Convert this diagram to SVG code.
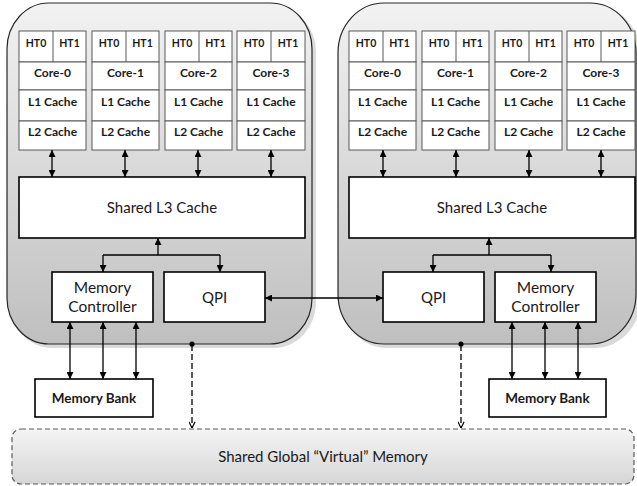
<svg xmlns="http://www.w3.org/2000/svg" width="637" height="486" viewBox="0 0 637 486">
<defs>
<linearGradient id="sock" x1="0" y1="0" x2="0" y2="1">
<stop offset="0" stop-color="#f2f2f2"/>
<stop offset="1" stop-color="#bfbfbf"/>
</linearGradient>
<linearGradient id="glob" x1="0" y1="0" x2="0" y2="1">
<stop offset="0" stop-color="#f4f4f4"/>
<stop offset="1" stop-color="#d6d6d6"/>
</linearGradient>
<marker id="ah" viewBox="0 0 8 8" refX="8" refY="4" markerWidth="7" markerHeight="7" markerUnits="userSpaceOnUse" orient="auto-start-reverse">
<path d="M0,0 L8,4 L0,8 z" fill="#000"/>
</marker>
<marker id="open" viewBox="0 0 8 8" refX="7.5" refY="4" markerWidth="7" markerHeight="7" markerUnits="userSpaceOnUse" orient="auto">
<path d="M0.5,0.5 L7.5,4 L0.5,7.5" fill="none" stroke="#000" stroke-width="1.3"/>
</marker>
</defs>
<style>
.sock{fill:url(#sock);stroke:#262626;stroke-width:1.2}
.shadow{fill:#dadada}
.cell{fill:#fff;stroke:#595959;stroke-width:1}
.box{fill:#fff;stroke:#000;stroke-width:1.6}
.ht{font-family:Lato,"Liberation Sans",sans-serif;font-weight:bold;font-size:10.5px;fill:#1a1a1a;text-anchor:middle}
.cl{font-family:Lato,"Liberation Sans",sans-serif;font-weight:bold;font-size:12px;fill:#1a1a1a;text-anchor:middle}
.lbl{font-family:Lato,"Liberation Sans",sans-serif;font-size:15px;fill:#1a1a1a;text-anchor:middle}
.mc{font-family:Lato,"Liberation Sans",sans-serif;font-size:15.5px;fill:#1a1a1a;text-anchor:middle}
.mb{font-family:Lato,"Liberation Sans",sans-serif;font-weight:bold;font-size:13.5px;fill:#1a1a1a;text-anchor:middle}
.conn line,.conn path{stroke:#000;stroke-width:1.3;fill:none}
.dash{stroke-dasharray:6,3}
.glob{fill:url(#glob);stroke:#595959;stroke-width:1.2;stroke-dasharray:5,3}
</style>

<!-- Sockets -->
<g id="socket-left">
<rect class="shadow" x="10" y="6" width="306" height="342" rx="42" ry="46"/>
<rect class="sock" x="7" y="3" width="305" height="341" rx="42" ry="46"/>
</g>
<g id="socket-right">
<rect class="shadow" x="341" y="6" width="300" height="342" rx="46" ry="50"/>
<rect class="sock" x="338" y="3" width="298" height="341" rx="46" ry="50"/>
</g>

<!-- Left cores -->
<g id="left-core-0">
<rect class="cell" x="19" y="31" width="67" height="31"/><line class="cell" x1="53" y1="31" x2="53" y2="62"/>
<rect class="cell" x="19" y="62" width="67" height="28"/><rect class="cell" x="19" y="90" width="67" height="31"/><rect class="cell" x="19" y="121" width="67" height="29"/>
<text class="ht" x="36" y="46.5">HT0</text><text class="ht" x="69.5" y="46.5">HT1</text>
<text class="cl" x="52.5" y="77">Core-0</text><text class="cl" x="52.5" y="106">L1 Cache</text><text class="cl" x="52.5" y="136">L2 Cache</text>
</g>
<g id="left-core-1">
<rect class="cell" x="92" y="31" width="67" height="31"/><line class="cell" x1="126" y1="31" x2="126" y2="62"/>
<rect class="cell" x="92" y="62" width="67" height="28"/><rect class="cell" x="92" y="90" width="67" height="31"/><rect class="cell" x="92" y="121" width="67" height="29"/>
<text class="ht" x="109" y="46.5">HT0</text><text class="ht" x="142.5" y="46.5">HT1</text>
<text class="cl" x="125.5" y="77">Core-1</text><text class="cl" x="125.5" y="106">L1 Cache</text><text class="cl" x="125.5" y="136">L2 Cache</text>
</g>
<g id="left-core-2">
<rect class="cell" x="165" y="31" width="67" height="31"/><line class="cell" x1="199" y1="31" x2="199" y2="62"/>
<rect class="cell" x="165" y="62" width="67" height="28"/><rect class="cell" x="165" y="90" width="67" height="31"/><rect class="cell" x="165" y="121" width="67" height="29"/>
<text class="ht" x="182" y="46.5">HT0</text><text class="ht" x="215.5" y="46.5">HT1</text>
<text class="cl" x="198.5" y="77">Core-2</text><text class="cl" x="198.5" y="106">L1 Cache</text><text class="cl" x="198.5" y="136">L2 Cache</text>
</g>
<g id="left-core-3">
<rect class="cell" x="237" y="31" width="68" height="31"/><line class="cell" x1="271" y1="31" x2="271" y2="62"/>
<rect class="cell" x="237" y="62" width="68" height="28"/><rect class="cell" x="237" y="90" width="68" height="31"/><rect class="cell" x="237" y="121" width="68" height="29"/>
<text class="ht" x="254" y="46.5">HT0</text><text class="ht" x="288" y="46.5">HT1</text>
<text class="cl" x="271" y="77">Core-3</text><text class="cl" x="271" y="106">L1 Cache</text><text class="cl" x="271" y="136">L2 Cache</text>
</g>

<!-- Right cores -->
<g id="right-core-0">
<rect class="cell" x="349" y="31" width="67" height="31"/><line class="cell" x1="383" y1="31" x2="383" y2="62"/>
<rect class="cell" x="349" y="62" width="67" height="28"/><rect class="cell" x="349" y="90" width="67" height="31"/><rect class="cell" x="349" y="121" width="67" height="29"/>
<text class="ht" x="366" y="46.5">HT0</text><text class="ht" x="399.5" y="46.5">HT1</text>
<text class="cl" x="382.5" y="77">Core-0</text><text class="cl" x="382.5" y="106">L1 Cache</text><text class="cl" x="382.5" y="136">L2 Cache</text>
</g>
<g id="right-core-1">
<rect class="cell" x="422" y="31" width="67" height="31"/><line class="cell" x1="456" y1="31" x2="456" y2="62"/>
<rect class="cell" x="422" y="62" width="67" height="28"/><rect class="cell" x="422" y="90" width="67" height="31"/><rect class="cell" x="422" y="121" width="67" height="29"/>
<text class="ht" x="439" y="46.5">HT0</text><text class="ht" x="472.5" y="46.5">HT1</text>
<text class="cl" x="455.5" y="77">Core-1</text><text class="cl" x="455.5" y="106">L1 Cache</text><text class="cl" x="455.5" y="136">L2 Cache</text>
</g>
<g id="right-core-2">
<rect class="cell" x="495" y="31" width="67" height="31"/><line class="cell" x1="529" y1="31" x2="529" y2="62"/>
<rect class="cell" x="495" y="62" width="67" height="28"/><rect class="cell" x="495" y="90" width="67" height="31"/><rect class="cell" x="495" y="121" width="67" height="29"/>
<text class="ht" x="512" y="46.5">HT0</text><text class="ht" x="545.5" y="46.5">HT1</text>
<text class="cl" x="528.5" y="77">Core-2</text><text class="cl" x="528.5" y="106">L1 Cache</text><text class="cl" x="528.5" y="136">L2 Cache</text>
</g>
<g id="right-core-3">
<rect class="cell" x="567" y="31" width="68" height="31"/><line class="cell" x1="601" y1="31" x2="601" y2="62"/>
<rect class="cell" x="567" y="62" width="68" height="28"/><rect class="cell" x="567" y="90" width="68" height="31"/><rect class="cell" x="567" y="121" width="68" height="29"/>
<text class="ht" x="584" y="46.5">HT0</text><text class="ht" x="618" y="46.5">HT1</text>
<text class="cl" x="601" y="77">Core-3</text><text class="cl" x="601" y="106">L1 Cache</text><text class="cl" x="601" y="136">L2 Cache</text>
</g>

<!-- L3 caches -->
<g id="left-l3"><rect class="box" x="19" y="177" width="286" height="61"/><text class="lbl" x="162" y="213">Shared L3 Cache</text></g>
<g id="right-l3"><rect class="box" x="349" y="177" width="286" height="61"/><text class="lbl" x="492" y="213">Shared L3 Cache</text></g>

<!-- Memory controllers and QPI -->
<g id="left-mc"><rect class="box" x="52" y="272" width="101" height="50"/><text class="mc" x="102.5" y="293">Memory</text><text class="mc" x="102.5" y="312">Controller</text></g>
<g id="left-qpi"><rect class="box" x="164" y="272" width="101" height="50"/><text class="lbl" x="214.5" y="303">QPI</text></g>
<g id="right-qpi"><rect class="box" x="383" y="272" width="101" height="50"/><text class="lbl" x="433.5" y="303">QPI</text></g>
<g id="right-mc"><rect class="box" x="495" y="272" width="101" height="50"/><text class="mc" x="545.5" y="293">Memory</text><text class="mc" x="545.5" y="312">Controller</text></g>

<!-- Memory banks -->
<g id="left-bank"><rect class="box" x="35" y="379" width="118" height="38"/><text class="mb" x="94" y="403">Memory Bank</text></g>
<g id="right-bank"><rect class="box" x="489" y="379" width="117" height="38"/><text class="mb" x="547.5" y="403">Memory Bank</text></g>

<!-- Shared global memory -->
<g id="global-memory"><rect class="glob" x="12" y="429" width="622" height="55" rx="9" ry="9"/><text class="lbl" x="323" y="462">Shared Global “Virtual” Memory</text></g>

<!-- Connectors -->
<g id="connectors" class="conn">
<line x1="52" y1="150" x2="52" y2="177" marker-start="url(#ah)" marker-end="url(#ah)"/>
<line x1="125" y1="150" x2="125" y2="177" marker-start="url(#ah)" marker-end="url(#ah)"/>
<line x1="198" y1="150" x2="198" y2="177" marker-start="url(#ah)" marker-end="url(#ah)"/>
<line x1="271" y1="150" x2="271" y2="177" marker-start="url(#ah)" marker-end="url(#ah)"/>
<line x1="383" y1="150" x2="383" y2="177" marker-start="url(#ah)" marker-end="url(#ah)"/>
<line x1="456" y1="150" x2="456" y2="177" marker-start="url(#ah)" marker-end="url(#ah)"/>
<line x1="529" y1="150" x2="529" y2="177" marker-start="url(#ah)" marker-end="url(#ah)"/>
<line x1="601" y1="150" x2="601" y2="177" marker-start="url(#ah)" marker-end="url(#ah)"/>

<line x1="158" y1="255" x2="158" y2="238" marker-end="url(#ah)"/>
<path d="M103,255 H220"/>
<line x1="103" y1="255" x2="103" y2="272" marker-end="url(#ah)"/>
<line x1="220" y1="255" x2="220" y2="272" marker-end="url(#ah)"/>

<line x1="489" y1="255" x2="489" y2="238" marker-end="url(#ah)"/>
<path d="M433,255 H551"/>
<line x1="433" y1="255" x2="433" y2="272" marker-end="url(#ah)"/>
<line x1="551" y1="255" x2="551" y2="272" marker-end="url(#ah)"/>

<line x1="265" y1="298" x2="383" y2="298" marker-start="url(#ah)" marker-end="url(#ah)"/>

<line x1="70" y1="322" x2="70" y2="379" marker-start="url(#ah)" marker-end="url(#ah)"/>
<line x1="103" y1="322" x2="103" y2="379" marker-start="url(#ah)" marker-end="url(#ah)"/>
<line x1="136" y1="322" x2="136" y2="379" marker-start="url(#ah)" marker-end="url(#ah)"/>
<line x1="512" y1="322" x2="512" y2="379" marker-start="url(#ah)" marker-end="url(#ah)"/>
<line x1="545" y1="322" x2="545" y2="379" marker-start="url(#ah)" marker-end="url(#ah)"/>
<line x1="578" y1="322" x2="578" y2="379" marker-start="url(#ah)" marker-end="url(#ah)"/>

<circle cx="192" cy="344" r="2.6" fill="#000"/>
<line class="dash" x1="192" y1="345" x2="192" y2="428" marker-end="url(#open)"/>
<circle cx="461" cy="344" r="2.6" fill="#000"/>
<line class="dash" x1="461" y1="345" x2="461" y2="428" marker-end="url(#open)"/>
</g>
</svg>
